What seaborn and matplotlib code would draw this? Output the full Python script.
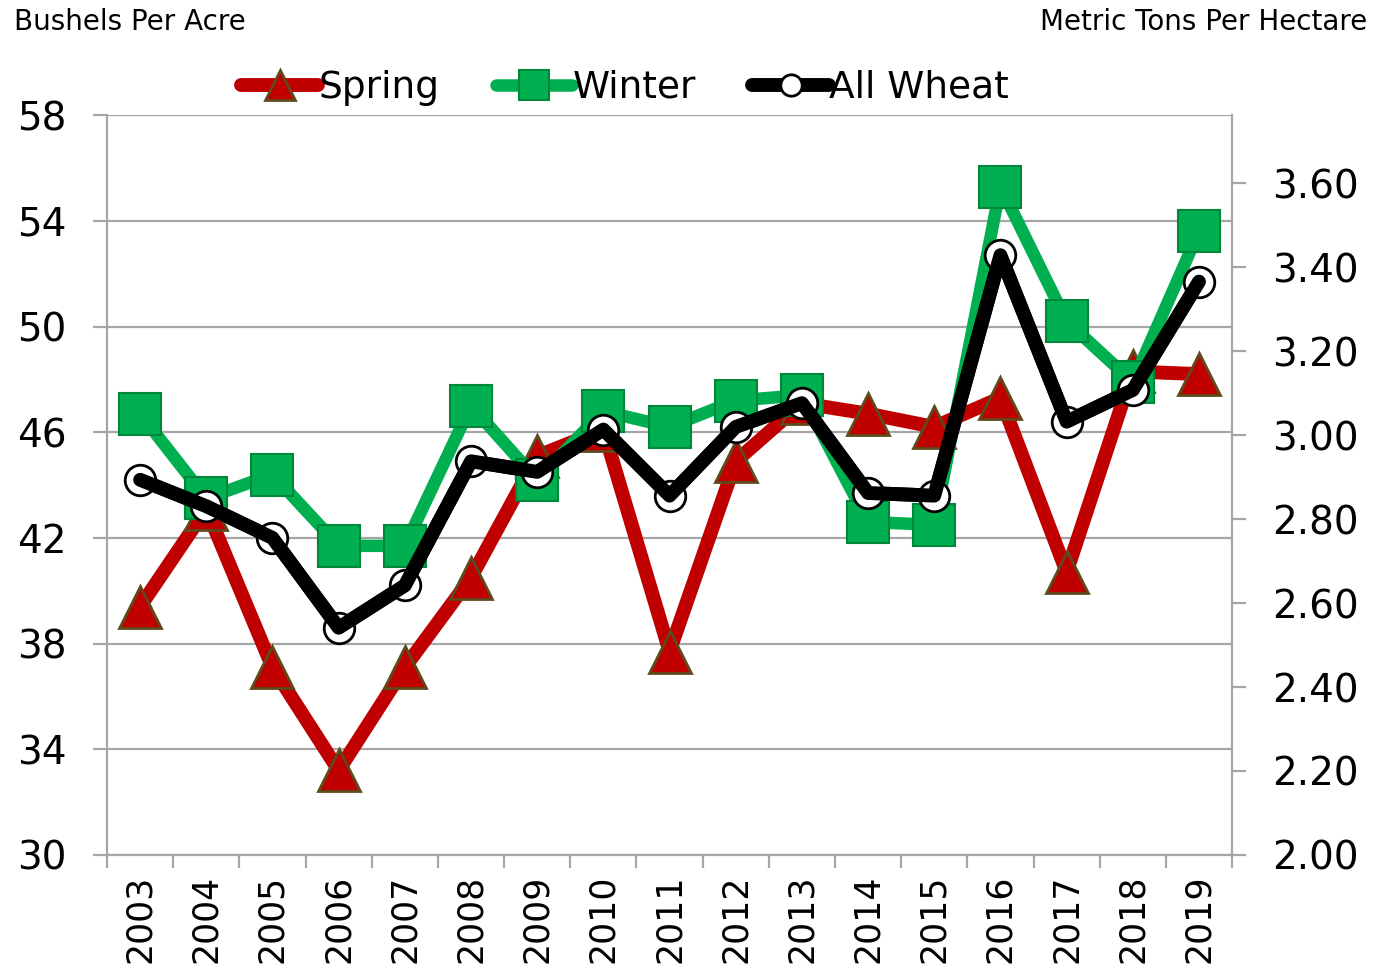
import pandas as pd
import numpy as np
import matplotlib.pyplot as plt
import seaborn as sns

# Wheat yields, bushels per acre
years = ['2003', '2004', '2005', '2006', '2007', '2008', '2009', '2010', '2011',
         '2012', '2013', '2014', '2015', '2016', '2017', '2018', '2019']
spring = [39.4, 43.1, 37.1, 33.2, 37.1, 40.5, 45.1, 46.1, 37.7,
          44.9, 47.1, 46.7, 46.2, 47.3, 40.7, 48.3, 48.2]
winter = [46.7, 43.5, 44.4, 41.7, 41.7, 47.0, 44.2, 46.8, 46.2,
          47.2, 47.4, 42.6, 42.5, 55.3, 50.2, 47.9, 53.6]
all_wheat = [44.2, 43.2, 42.0, 38.6, 40.2, 44.9, 44.5, 46.1, 43.6,
             46.2, 47.1, 43.7, 43.6, 52.7, 46.4, 47.6, 51.7]

left_ticks = [30, 34, 38, 42, 46, 50, 54, 58]
right_ticks = [2.0, 2.2, 2.4, 2.6, 2.8, 3.0, 3.2, 3.4, 3.6]

df = pd.DataFrame({'pos': np.arange(len(years)), 'Spring': spring,
                   'Winter': winter, 'All Wheat': all_wheat})

sns.set_theme(style="white")
plt.rcParams['font.family'] = ['DejaVu Sans']
plt.rcParams['text.color'] = 'black'
plt.rcParams['xtick.labelcolor'] = 'black'
plt.rcParams['ytick.labelcolor'] = 'black'

fig = plt.figure(figsize=(13.74, 9.76), dpi=100)
ax = fig.add_axes([0.0779, 0.124, 0.8188, 0.758])

grid_c = '#A6A6A6'
for v in left_ticks:
    ax.axhline(v, color=grid_c, lw=1.6, zorder=0)

sns.lineplot(data=df, x='pos', y='Spring', ax=ax, color='#C00000', lw=10,
             marker='^', markersize=30, markerfacecolor='#C00000',
             markeredgecolor='#5E4A1C', markeredgewidth=2,
             solid_capstyle='round', solid_joinstyle='round',
             label='Spring', zorder=3)
sns.lineplot(data=df, x='pos', y='Winter', ax=ax, color='#00B050', lw=9,
             marker='s', markersize=30, markerfacecolor='#00B050',
             markeredgecolor='#00873C', markeredgewidth=1.5,
             solid_capstyle='round', solid_joinstyle='round',
             label='Winter', zorder=4)
sns.lineplot(data=df, x='pos', y='All Wheat', ax=ax, color='black', lw=10,
             marker='o', markersize=22, markerfacecolor='white',
             markeredgecolor='black', markeredgewidth=2,
             solid_capstyle='round', solid_joinstyle='round',
             label='All Wheat', zorder=5)
# black line drawn over its own circle markers
sns.lineplot(data=df, x='pos', y='All Wheat', ax=ax, color='black', lw=10,
             solid_capstyle='round', solid_joinstyle='round',
             legend=False, zorder=6)

ax.set_xlim(-0.5, len(years) - 0.5)
ax.set_ylim(30, 58)
ax.set_yticks(left_ticks)
ax.set_yticklabels([str(v) for v in left_ticks], fontsize=28)
ax.set_xticks(np.arange(len(years)))
ax.set_xticklabels(years, rotation=90, fontsize=25)
ax.set_xticks(np.arange(len(years) + 1) - 0.5, minor=True)
ax.tick_params(axis='x', which='major', length=0, pad=14)
ax.tick_params(axis='x', which='minor', length=9, width=1.6, color=grid_c,
               direction='out', bottom=True)
ax.tick_params(axis='y', length=10, width=1.6, color=grid_c, direction='out',
               left=True, pad=19)
ax.set_xlabel('')
ax.set_ylabel('')
for s in ['left', 'bottom', 'right']:
    ax.spines[s].set_color(grid_c)
    ax.spines[s].set_linewidth(1.6)
ax.spines['top'].set_visible(False)
ax.get_legend().remove()

ax2 = ax.twinx()
ax2.set_ylim(2.0, 2.0 + 740 / 420)
ax2.set_yticks(right_ticks)
ax2.set_yticklabels(['%.2f' % v for v in right_ticks], fontsize=28)
ax2.tick_params(axis='y', length=10, width=1.6, color=grid_c, direction='out',
                right=True, pad=19)
ax2.grid(False)
for s in ax2.spines.values():
    s.set_visible(False)

handles, labels = ax.get_legend_handles_labels()
fig.legend(handles, labels, loc='center', bbox_to_anchor=(0.455, 0.91), ncol=3,
           frameon=False, fontsize=27, markerscale=0.7, handlelength=2.05,
           handletextpad=0.0, columnspacing=1.5)

fig.text(0.010, 0.977, 'Bushels Per Acre', fontsize=20, ha='left', va='center')
fig.text(0.995, 0.977, 'Metric Tons Per Hectare', fontsize=20, ha='right', va='center')

plt.savefig('out.png', dpi=100)
